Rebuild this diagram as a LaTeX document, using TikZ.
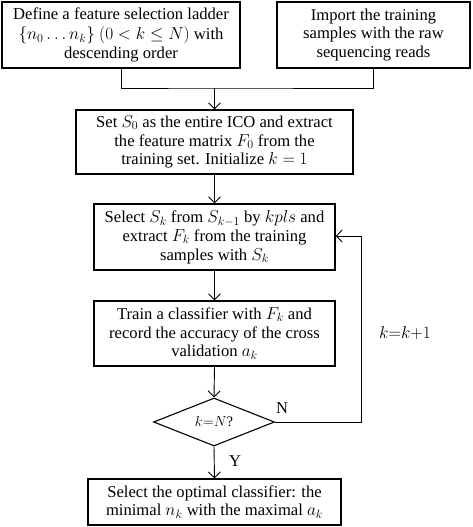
\documentclass[tikz,border=0pt]{standalone}
\usepackage{fontspec}
\setmainfont{Liberation Serif}
\usetikzlibrary{shapes.geometric,arrows.meta}
\begin{document}
\begin{tikzpicture}[x=1pt,y=1pt,
  box/.style={draw,line width=1.1pt,align=center,inner sep=0pt,font=\fontsize{16.6}{18.8}\selectfont},
  conn/.style={line width=0.9pt},
  arr/.style={conn,-{Straight Barb[length=6pt,width=12pt,line width=0.9pt]}},
  lbl/.style={font=\fontsize{16.5}{18}\selectfont,inner sep=0pt}]
\useasboundingbox (0,0) rectangle (472,-527);
\node[box,minimum width=238pt,minimum height=66pt] (b1) at (121,-35) {Define a feature selection ladder\\[1.2pt]$\{n_0\ldots n_k\}$ $(0<k\le N)$ with\\descending order};
\node[box,minimum width=193pt,minimum height=66pt] (b2) at (373.5,-35) {Import the training\\samples with the raw\\sequencing reads};
\node[box,minimum width=277pt,minimum height=64pt] (b3) at (214.5,-142) {Set $S_0$ as the entire ICO and extract\\the feature matrix $F_0$ from the\\training set. Initialize $k=1$};
\node[box,minimum width=241pt,minimum height=66pt] (b4) at (214.5,-237) {Select $S_k$ from $S_{k-1}$ by $kpls$ and\\extract $F_k$ from the training\\samples with $S_k$};
\node[box,minimum width=241pt,minimum height=65pt] (b5) at (214.5,-333.5) {Train a classifier with $F_k$ and\\record the accuracy of the cross\\validation $a_k$};
\node[draw,diamond,line width=1.1pt,minimum width=121pt,minimum height=48pt,inner sep=0pt,aspect=2.5,font=\fontsize{14.5}{16}\selectfont] (d) at (214,-422) {$k{=}N$?};
\node[box,minimum width=253pt,minimum height=46pt] (b6) at (214.5,-502) {Select the optimal classifier: the\\minimal $n_k$ with the maximal $a_k$};
\coordinate (j) at (214.5,-88);
\coordinate (loopb) at (361,-422);
\coordinate (loopt) at (361,-236);
\draw[conn] (b1.south) |- (j) -| (b2.south);
\draw[arr,line width=1.8pt] (j) -- (b3.north);
\draw[arr] (b3.south) -- (b4.north);
\draw[arr] (b4.south) -- (b5.north);
\draw[arr] (b5.south) -- (d.north);
\draw[arr] (d.south) -- (b6.north);
\draw[conn] (d.east) -- (loopb) -- (loopt);
\draw[arr] (loopt) -- (b4.east |- loopt);
\node[lbl] (kk) at (405,-333) {$k{=}k{+}1$};
\node[lbl] (nn) at (282,-408) {N};
\node[lbl] (yy) at (235,-461) {Y};
\end{tikzpicture}
\end{document}
